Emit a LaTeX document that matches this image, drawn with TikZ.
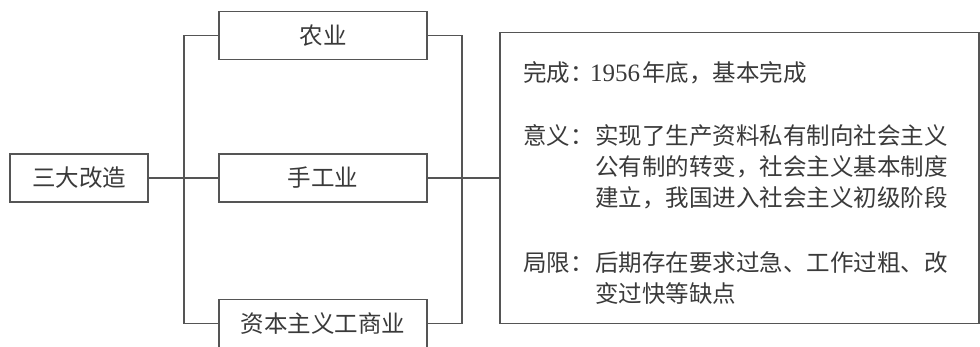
\documentclass[tikz,border=0pt]{standalone}
\usepackage{fontspec}
\setmainfont{Liberation Serif}
\newfontfamily\cjk{Noto Sans CJK SC}
\newfontfamily\numfont{Liberation Serif}
\definecolor{linegray}{HTML}{555555}
\definecolor{textgray}{HTML}{3A3A3A}
\tikzset{
  box/.style={draw=linegray, line width=1.2bp, rectangle, inner sep=0pt, minimum height=48bp, text=textgray, font=\cjk\fontsize{23.5bp}{28bp}\selectfont},
  conn/.style={draw=linegray, line width=1.2bp},
  txt/.style={anchor=base west, inner sep=0pt, text=textgray, font=\cjk\fontsize{23.5bp}{28bp}\selectfont},
}
\begin{document}
\begin{tikzpicture}[x=1bp,y=-1bp]
\useasboundingbox[fill=white] (0,0) rectangle (980,346);
\node[box, minimum width=138bp] (sd) at (79,178) {三大改造};
\node[box, minimum width=208bp] (ny) at (323,35.5) {农业};
\node[box, minimum width=208bp] (sg) at (323,178) {手工业};
\node[box, minimum width=208bp] (zb) at (323,323.5) {资本主义工商业};
\node[box, minimum width=479bp, minimum height=291bp] (info) at (739.5,178) {};
\coordinate (lj) at (184,178);
\coordinate (rj) at (462,178);
\draw[conn] (sd.east) -- (sg.west);
\draw[conn] (ny.west) -| (lj) |- (zb.west);
\draw[conn] (ny.east) -| (rj) |- (zb.east);
\draw[conn] (sg.east) -- (info.west);
% text in info box
\node[txt] (l1a) at (523,81) {完成：};
\node[txt] (l1b) at (590,81) {{\numfont\fontsize{25bp}{28bp}\selectfont 1956}\hspace{2bp}年底，基本完成};
\node[txt] (l2a) at (523,144) {意义：};
\node[txt] (l2b) at (595,144) {实现了生产资料私有制向社会主义};
\node[txt] (l2c) at (595,175) {公有制的转变，社会主义基本制度};
\node[txt] (l2d) at (595,206) {建立，我国进入社会主义初级阶段};
\node[txt] (l3a) at (523,271) {局限：};
\node[txt] (l3b) at (595,271) {后期存在要求过急、工作过粗、改};
\node[txt] (l3c) at (595,302) {变过快等缺点};
\end{tikzpicture}
\end{document}
